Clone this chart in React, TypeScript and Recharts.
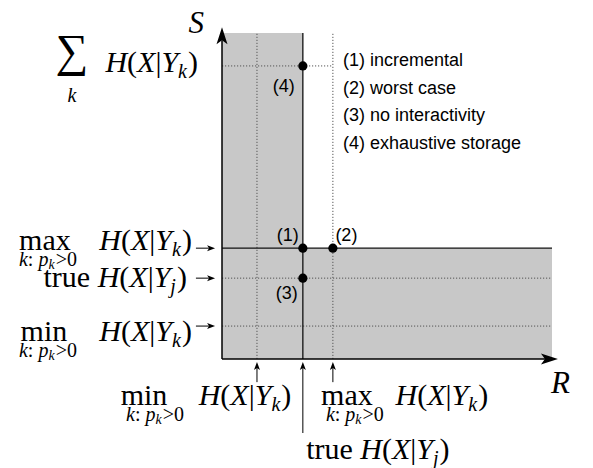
import React from 'react';
import { ScatterChart, Scatter, XAxis, YAxis, ReferenceArea, ReferenceLine } from 'recharts';

// ---- data ----
// Rate axis (R) levels
const rLevelNames = ['min', 'true', 'max'];
const rLevelValues = [10.6, 24.5, 33.6];
// Storage axis (S) levels
const sLevelNames = ['min', 'true', 'max', 'sum'];
const sLevelValues = [10.1, 24.8, 34.0, 89.9];
// Operating points
const pointLabels = ['(1)', '(2)', '(3)', '(4)'];
const pointR = [24.5, 33.6, 24.5, 24.5];
const pointS = [34.0, 34.0, 24.8, 89.9];
// Legend texts
const legendItems = ['(1) incremental', '(2) worst case', '(3) no interactivity', '(4) exhaustive storage'];
const axisDomain = [0, 100];
const axisTip = 101.8;

const rOf = (n: string) => rLevelValues[rLevelNames.indexOf(n)];
const sOf = (n: string) => sLevelValues[sLevelNames.indexOf(n)];

const points = pointR.map((r, i) => ({ r, s: pointS[i], label: pointLabels[i] }));

// ---- styles ----
const SERIF = '"Liberation Serif", "Times New Roman", serif';
const SANS = '"Liberation Sans", Arial, sans-serif';
const MS = 30;
const SUB = 20;
const SUBSUB = 14;
const SHADE = '#c8c8c8';
const DOT = '#555';

function arrowHead(x1: number, y1: number, x2: number, y2: number, len: number, half: number, notch: number) {
  const d = Math.hypot(x2 - x1, y2 - y1) || 1;
  const ux = (x2 - x1) / d, uy = (y2 - y1) / d;
  const px = -uy, py = ux;
  const bx = x2 - ux * len, by = y2 - uy * len;
  const nx = x2 - ux * (len - notch), ny = y2 - uy * (len - notch);
  return {
    d: `M${x2},${y2} L${bx + px * half},${by + py * half} L${nx},${ny} L${bx - px * half},${by - py * half} Z`,
    ex: nx,
    ey: ny,
  };
}

function Arrow({ x1, y1, x2, y2, len, half, notch, width }: any) {
  const h = arrowHead(x1, y1, x2, y2, len, half, notch);
  return (
    <g>
      <line x1={x1} y1={y1} x2={h.ex} y2={h.ey} stroke="#000" strokeWidth={width} />
      <path d={h.d} fill="#000" stroke="none" />
    </g>
  );
}

function HExpr({ x, y, sub, anchor = 'start', prefix }: any) {
  return (
    <text x={x} y={y} textAnchor={anchor} fontFamily={SERIF} fontSize={MS} fill="#000">
      {prefix ? <tspan>{prefix + ' '}</tspan> : null}
      <tspan fontStyle="italic">H</tspan>
      <tspan>(</tspan>
      <tspan fontStyle="italic">X</tspan>
      <tspan>|</tspan>
      <tspan fontStyle="italic">Y</tspan>
      <tspan fontStyle="italic" fontSize={SUB} dy={6}>{sub}</tspan>
      <tspan dy={-6} dx={1}>)</tspan>
    </text>
  );
}

function OpLimits({ cx, subCx, y, op }: any) {
  return (
    <text textAnchor="middle" fontFamily={SERIF} fill="#000">
      <tspan x={cx} y={y} fontSize={MS}>{op}</tspan>
      <tspan x={subCx} y={y + 16} fontSize={SUB} fontStyle="italic">k</tspan>
      <tspan fontSize={SUB}>{': '}</tspan>
      <tspan fontSize={SUB} fontStyle="italic">p</tspan>
      <tspan fontStyle="italic" fontSize={SUBSUB} dy={3}>k</tspan>
      <tspan fontSize={SUB} dy={-3} dx={1}>{'>0'}</tspan>
    </text>
  );
}

function sideLabel(name: string, x1: number, y1: number) {
  if (name === 'max') {
    return (
      <g>
        <HExpr x={x1 - 4} y={y1 + 2} sub="k" anchor="end" />
        <OpLimits cx={x1 - 151} subCx={x1 - 148} y={y1 + 2} op="max" />
      </g>
    );
  }
  if (name === 'true') {
    return <HExpr x={x1 - 9} y={y1 + 9} sub="j" anchor="end" prefix="true" />;
  }
  return (
    <g>
      <HExpr x={x1 - 4} y={y1 + 15} sub="k" anchor="end" />
      <OpLimits cx={x1 - 152} subCx={x1 - 148} y={y1 + 15} op="min" />
    </g>
  );
}

function bottomLabel(name: string, x1: number, y1: number) {
  if (name === 'min') {
    return (
      <g>
        <OpLimits cx={x1 - 113} subCx={x1 - 102} y={y1 + 23} op="min" />
        <HExpr x={x1 - 12} y={y1 + 23} sub="k" anchor="middle" />
      </g>
    );
  }
  if (name === 'max') {
    return (
      <g>
        <OpLimits cx={x1 + 14} subCx={x1 + 22} y={y1 + 23} op="max" />
        <HExpr x={x1 + 109} y={y1 + 23} sub="k" anchor="middle" />
      </g>
    );
  }
  return <HExpr x={x1 + 75} y={y1 + 26} sub="j" anchor="middle" prefix="true" />;
}

const labelOffsets: Record<string, [number, number]> = {
  '(1)': [-15, -7],
  '(2)': [13.5, -7],
  '(3)': [-16, 21],
  '(4)': [-19, 26],
};

const PointShape = (props: any) => {
  const { cx, cy, payload } = props;
  const off = labelOffsets[payload.label] || [0, 0];
  return (
    <g>
      <circle cx={cx} cy={cy} r={4.6} fill="#000" />
      <text x={cx + off[0]} y={cy + off[1]} textAnchor="middle" fontFamily={SANS} fontSize={18} fill="#000">
        {payload.label}
      </text>
    </g>
  );
};

export default function App() {
  const dotted = { stroke: DOT, strokeWidth: 1, strokeDasharray: '1.2 1.8' };
  return (
    <div style={{ position: 'absolute', left: 0, top: 0, width: 593, height: 468, background: '#fff' }}>
      <ScatterChart width={593} height={468} margin={{ top: 33, right: 41, bottom: 109, left: 222 }}>
        <XAxis type="number" dataKey="r" domain={axisDomain} hide />
        <YAxis type="number" dataKey="s" domain={axisDomain} hide />
        <ReferenceArea x1={axisDomain[0]} x2={rOf('true')} y1={axisDomain[0]} y2={axisDomain[1]} fill={SHADE} fillOpacity={1} stroke="none" />
        <ReferenceArea x1={axisDomain[0]} x2={axisDomain[1]} y1={axisDomain[0]} y2={sOf('max')} fill={SHADE} fillOpacity={1} stroke="none" />
        <ReferenceLine x={rOf('min')} {...dotted} />
        <ReferenceLine x={rOf('max')} {...dotted} />
        <ReferenceLine y={sOf('true')} {...dotted} />
        <ReferenceLine y={sOf('min')} {...dotted} />
        <ReferenceLine
          segment={[{ x: axisDomain[0], y: sOf('sum') }, { x: rOf('max'), y: sOf('sum') }]}
          ifOverflow="visible"
          shape={(p: any) => (
            <g>
              <line x1={p.x1} y1={p.y1} x2={p.x2} y2={p.y2} stroke={DOT} strokeWidth={1} strokeDasharray="1.2 1.8" />
              <text textAnchor="middle" fontFamily={SERIF} fill="#000">
                <tspan x={p.x1 - 150} y={p.y1 + 0} fontSize={46}>∑</tspan>
                <tspan x={p.x1 - 150} y={p.y1 + 36} fontSize={SUB} fontStyle="italic">k</tspan>
              </text>
              <HExpr x={p.x1 - 24} y={p.y1 + 6} sub="k" anchor="end" />
            </g>
          )}
        />
        <ReferenceLine x={rOf('true')} stroke="#111" strokeWidth={1.3} />
        <ReferenceLine y={sOf('max')} stroke="#111" strokeWidth={1.3} />
        {/* axes with arrows */}
        <ReferenceLine
          segment={[{ x: axisDomain[0], y: axisDomain[0] }, { x: axisDomain[0], y: axisTip }]}
          ifOverflow="visible"
          shape={(p: any) => (
            <g>
              <Arrow x1={p.x1} y1={p.y1} x2={p.x2} y2={p.y2} len={17} half={5.5} notch={4} width={1.5} />
              <text x={p.x2 - 18} y={p.y2 + 6} textAnchor="end" fontFamily={SERIF} fontSize={31} fontStyle="italic" fill="#000">S</text>
            </g>
          )}
        />
        <ReferenceLine
          segment={[{ x: axisDomain[0], y: axisDomain[0] }, { x: axisTip, y: axisDomain[0] }]}
          ifOverflow="visible"
          shape={(p: any) => (
            <g>
              <Arrow x1={p.x1} y1={p.y1} x2={p.x2} y2={p.y2} len={17} half={5.5} notch={4} width={1.5} />
              <text x={p.x2 - 7} y={p.y2 + 34} textAnchor="start" fontFamily={SERIF} fontSize={31} fontStyle="italic" fill="#000">R</text>
            </g>
          )}
        />
        {/* side pointers for S levels */}
        {sLevelNames.filter((n) => n !== 'sum').map((n) => (
          <ReferenceLine
            key={'s-' + n}
            segment={[{ x: -7.9, y: sOf(n) }, { x: -2.1, y: sOf(n) }]}
            ifOverflow="visible"
            shape={(p: any) => (
              <g>
                <Arrow x1={p.x1} y1={p.y1} x2={p.x2} y2={p.y2} len={8} half={3} notch={2} width={1} />
                {sideLabel(n, p.x1, p.y1)}
              </g>
            )}
          />
        ))}
        {/* bottom pointers for R levels */}
        {rLevelNames.map((n) => (
          <ReferenceLine
            key={'r-' + n}
            segment={[{ x: rOf(n), y: n === 'true' ? -22.7 : -7.1 }, { x: rOf(n), y: -0.9 }]}
            ifOverflow="visible"
            shape={(p: any) => (
              <g>
                <Arrow x1={p.x1} y1={p.y1} x2={p.x2} y2={p.y2} len={8} half={3} notch={2} width={1} />
                {bottomLabel(n, p.x1, p.y1)}
              </g>
            )}
          />
        ))}
        <Scatter data={points} shape={PointShape} isAnimationActive={false} />
      </ScatterChart>
      <svg width={593} height={468} style={{ position: 'absolute', left: 0, top: 0, pointerEvents: 'none' }}>
        {legendItems.map((t, i) => (
          <text key={t} x={343} y={66 + i * 27.7} fontFamily={SANS} fontSize={18} fill="#000">{t}</text>
        ))}
      </svg>
    </div>
  );
}
